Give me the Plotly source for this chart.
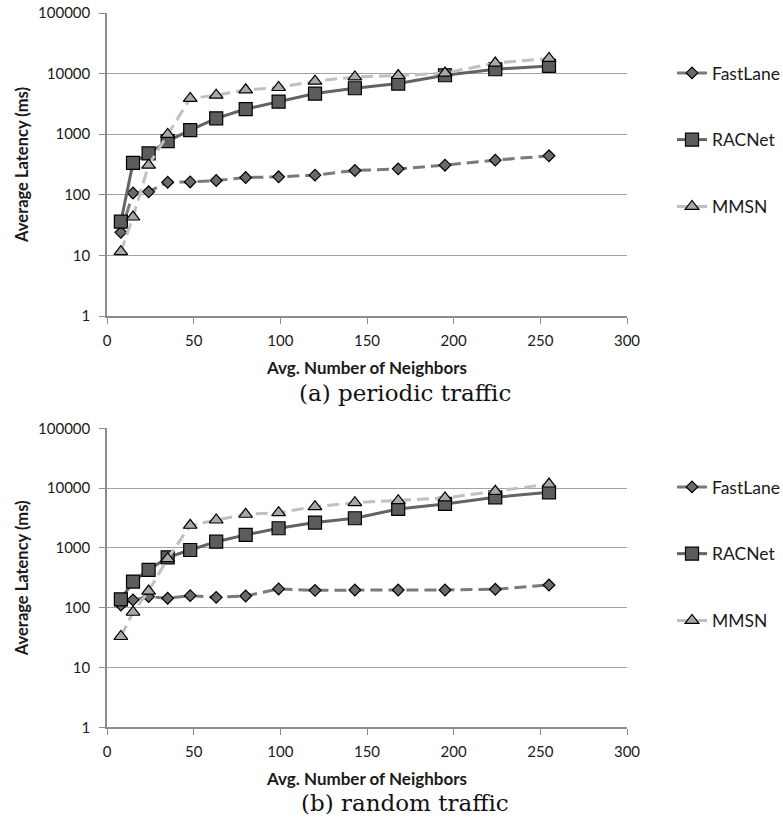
import plotly.graph_objects as go

# ---- data ----
neighbors = [8, 15, 24, 35, 48, 63, 80, 99, 120, 143, 168, 195, 224, 255]

periodic_fastlane = [24, 107, 112, 161, 163, 172, 193, 198, 211, 252, 268, 308, 373, 440]
periodic_racnet = [36, 337, 481, 770, 1170, 1830, 2600, 3450, 4680, 5730, 6850, 9400, 11800, 13400]
periodic_mmsn = [11.5, 43, 308, 990, 3900, 4400, 5400, 5900, 7500, 8800, 9300, 10200, 14900, 17800]

random_fastlane = [111, 135, 153, 144, 159, 149, 157, 206, 195, 198, 198, 198, 203, 240]
random_racnet = [138, 273, 428, 696, 923, 1270, 1650, 2130, 2650, 3130, 4480, 5430, 7020, 8510]
random_mmsn = [33, 84, 190, 662, 2390, 2930, 3650, 3890, 4900, 5710, 6170, 6840, 8840, 11700]

series_names = ["FastLane", "RACNet", "MMSN"]
captions = ["(a) periodic traffic", "(b) random traffic"]
x_title = "Avg. Number of Neighbors"
y_title = "Average Latency (ms)"
y_tickvals = [1, 10, 100, 1000, 10000, 100000]
y_ticktext = ["1", "10", "100", "1000", "10000", "100000"]
x_tickvals = [0, 50, 100, 150, 200, 250, 300]

# ---- styles / layout ----
W, H = 783, 820

styles = {
    "FastLane": dict(line=dict(color="#7a7a7a", width=3, dash="12px,6px"),
                     marker=dict(symbol="diamond", size=9, color="#6a6a6a",
                                 line=dict(color="#000000", width=1.2))),
    "RACNet": dict(line=dict(color="#636363", width=3),
                   marker=dict(symbol="square", size=13, color="#5c5c5c",
                               line=dict(color="#000000", width=1.2))),
    "MMSN": dict(line=dict(color="#c0c0c0", width=3, dash="12px,6px"),
                 marker=dict(symbol="triangle-up", size=12, color="#a8a8a8",
                             line=dict(color="#000000", width=1.2))),
}

FONT = "Lato, 'Open Sans', sans-serif"
TXT = "#1a1a1a"

fig = go.Figure()

panels = [
    ([periodic_fastlane, periodic_racnet, periodic_mmsn], "x", "y", "legend", "a"),
    ([random_fastlane, random_racnet, random_mmsn], "x2", "y2", "legend2", "b"),
]
for vals, xa, ya, lg, tag in panels:
    for name, v in zip(series_names, vals):
        st = styles[name]
        fig.add_trace(go.Scatter(
            x=neighbors, y=v, name=name, mode="lines+markers",
            line=st["line"], marker=st["marker"],
            xaxis=xa, yaxis=ya, legend=lg, legendgroup=tag + name,
        ))

L, R = 107, 627

def ydom(top_px, bot_px):
    return [(H - bot_px) / H, (H - top_px) / H]

def xpaper(xp):
    return (xp - L) / (R - L)

def ypaper(yp):
    return (H - yp) / H

axis_common_x = dict(
    range=[0, 300], tickvals=x_tickvals, showgrid=False, zeroline=False,
    showline=True, linecolor="#8c8c8c", linewidth=1.5, automargin=False,
    ticks="outside", ticklen=6, tickcolor="#8c8c8c", tickwidth=1.2,
    ticklabelstandoff=4, ticklabeloverflow="allow",
    tickfont=dict(family=FONT, size=15, color=TXT),
    title=dict(text="<b>" + x_title + "</b>", standoff=14,
               font=dict(family=FONT, size=17, color=TXT)),
)
axis_common_y = dict(
    type="log", range=[0, 5], tickvals=y_tickvals, ticktext=y_ticktext,
    showgrid=True, gridcolor="#a3a3a3", gridwidth=1.2, zeroline=False,
    showline=True, linecolor="#8c8c8c", linewidth=1.5, automargin=False,
    ticks="outside", ticklen=6, tickcolor="#8c8c8c", tickwidth=1.2,
    ticklabelstandoff=6, ticklabeloverflow="allow",
    tickfont=dict(family=FONT, size=15, color=TXT),
    title=dict(text="<b>" + y_title + "</b>", standoff=5,
               font=dict(family=FONT, size=16.5, color=TXT)),
)

top_dom = ydom(13, 316)
bot_dom = ydom(428.3, 727.3)
leg_x = xpaper(672)

fig.update_layout(
    width=W, height=H,
    margin=dict(l=L, r=W - R, t=0, b=0, autoexpand=False),
    paper_bgcolor="white", plot_bgcolor="white",
    xaxis=dict(domain=[0, 1], anchor="y", **axis_common_x),
    yaxis=dict(domain=top_dom, anchor="x", **axis_common_y),
    xaxis2=dict(domain=[0, 1], anchor="y2", **axis_common_x),
    yaxis2=dict(domain=bot_dom, anchor="x2", **axis_common_y),
    legend=dict(x=leg_x, xanchor="left",
                y=ypaper(55), yanchor="top",
                tracegroupgap=41, bgcolor="rgba(0,0,0,0)",
                font=dict(family=FONT, size=17.5, color=TXT)),
    legend2=dict(x=leg_x, xanchor="left",
                 y=ypaper(469), yanchor="top",
                 tracegroupgap=41, bgcolor="rgba(0,0,0,0)",
                 font=dict(family=FONT, size=17.5, color=TXT)),
    showlegend=True,
)

cap_y = [393, 803]
for txt, yp in zip(captions, cap_y):
    fig.add_annotation(
        text=txt, xref="paper", yref="paper",
        x=xpaper(405), y=ypaper(yp), xanchor="center", yanchor="middle",
        showarrow=False,
        font=dict(family="'DejaVu Serif', 'Liberation Serif', serif", size=23, color="#111111"),
    )

# remove the browser's default 8px page margin so the figure sits at (0, 0)
fig.write_html("out.html", config={"displayModeBar": False},
               post_script="document.body.style.margin='0';")
